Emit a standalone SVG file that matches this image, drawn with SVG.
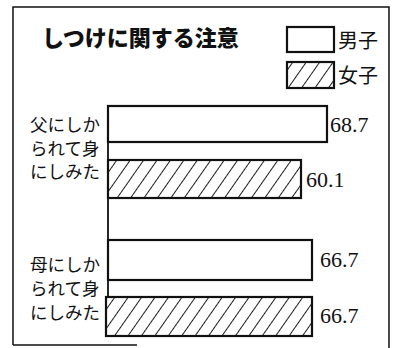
<svg xmlns="http://www.w3.org/2000/svg" width="398" height="348" viewBox="0 0 398 348">
<defs>
<pattern id="hatch" patternUnits="userSpaceOnUse" width="11" height="11" patternTransform="rotate(35)">
<rect width="11" height="11" fill="#fff"/>
<line x1="0" y1="0" x2="0" y2="11" stroke="#111" stroke-width="1.9"/>
</pattern>
</defs>
<style>
.frame{fill:none;stroke:#111;stroke-width:1.5}
.bar{stroke:#111;stroke-width:2.2}
.boy{fill:#fff}
.girl{fill:url(#hatch)}
.title{font-family:"Noto Sans CJK JP","Noto Sans",sans-serif;font-weight:900;font-size:22px;fill:#111}
.lab{font-family:"Noto Sans CJK JP",sans-serif;font-size:17.5px;fill:#111}
.leg{font-family:"Noto Sans CJK JP",sans-serif;font-size:20px;fill:#111}
.num{font-family:"Liberation Serif",serif;font-size:22px;fill:#111}
</style>
<g id="frame">
<polyline class="frame" points="13,345 13,7 389,7 389,348"/>
<line class="frame" x1="13" y1="345" x2="137" y2="345"/>
</g>
<g id="title"><text class="title" x="42" y="46">しつけに関する注意</text></g>
<g id="legend-boy">
<rect class="bar boy" x="287" y="27" width="47" height="25"/>
<text class="leg" x="338" y="48">男子</text>
</g>
<g id="legend-girl">
<rect class="bar girl" x="287" y="62" width="47" height="26"/>
<text class="leg" x="338" y="83">女子</text>
</g>
<g id="connectors">
<line x1="108" y1="106" x2="108" y2="336" stroke="#111" stroke-width="1.8"/>
</g>
<g id="father-label">
<text class="lab" x="30" y="131">父にしか</text>
<text class="lab" x="30" y="155">られて身</text>
<text class="lab" x="30" y="178">にしみた</text>
</g>
<g id="father-boy">
<rect class="bar boy" x="108" y="106" width="219" height="36"/>
<text class="num" x="330" y="132">68.7</text>
</g>
<g id="father-girl">
<rect class="bar girl" x="108" y="160" width="193" height="38"/>
<text class="num" x="306" y="187">60.1</text>
</g>
<g id="mother-label">
<text class="lab" x="30" y="271">母にしか</text>
<text class="lab" x="30" y="295">られて身</text>
<text class="lab" x="30" y="319">にしみた</text>
</g>
<g id="mother-boy">
<rect class="bar boy" x="108" y="240" width="204" height="40"/>
<text class="num" x="320" y="267">66.7</text>
</g>
<g id="mother-girl">
<rect class="bar girl" x="106" y="297" width="206" height="39"/>
<text class="num" x="320" y="323">66.7</text>
</g>
</svg>
